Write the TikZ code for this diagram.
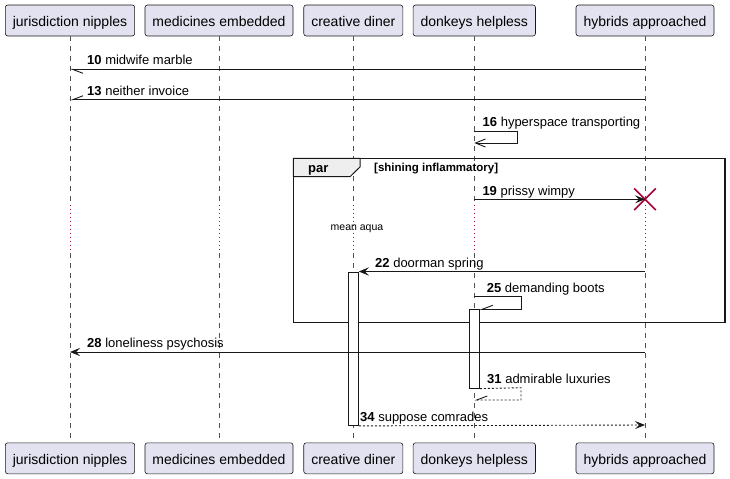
\documentclass[tikz,border=0pt]{standalone}
\usepackage{fontspec}
\setmainfont{Liberation Sans}
\usetikzlibrary{arrows.meta,shapes.misc}
\definecolor{pbox}{HTML}{E2E2F0}
\definecolor{ink}{HTML}{181818}
\definecolor{crim}{HTML}{A80036}
\definecolor{tabfill}{HTML}{EEEEEE}
\begin{document}
\begin{tikzpicture}[x=1bp,y=-1bp,
  part/.style={draw=ink, line width=0.6bp, fill=pbox, rounded corners=2.5bp,
    minimum height=31bp, inner xsep=7.5bp, inner ysep=0pt,
    text height=13bp, text depth=0bp,
    font=\fontsize{14bp}{16bp}\selectfont, text=black},
  life/.style={draw=ink!75, line width=0.6bp, dash pattern=on 5bp off 5bp},
  delayline/.style={draw=crim, line width=1bp, dash pattern=on 1bp off 3bp},
  msg/.style={draw=ink, line width=0.9bp},
  ret/.style={msg, dash pattern=on 2bp off 2bp},
  full/.style={-{Stealth[length=10bp,width=8bp,inset=4bp]}},
  openarr/.style={-{Straight Barb[length=10bp,width=8bp]}},
  halfdown/.style={-{Straight Barb[left,length=10.5bp,width=8bp]}},
  halfup/.style={-{Straight Barb[right,length=10.5bp,width=8bp]}},
  lbl/.style={anchor=base west, inner sep=0pt, font=\fontsize{13bp}{15bp}\selectfont},
  act/.style={draw=ink, fill=white, line width=0.9bp, inner sep=0pt, minimum width=10bp, anchor=north},
]
\useasboundingbox (0,0) rectangle (730,479);
\def\xj{70}\def\xm{219}\def\xc{353.3}\def\xd{474.3}\def\xh{645}
% participants
\node[part] (pj) at (\xj,20.5) {jurisdiction nipples};
\node[part] (pm) at (\xm,20.5) {medicines embedded};
\node[part] (pc) at (\xc,20.5) {creative diner};
\node[part] (pd) at (\xd,20.5) {donkeys helpless};
\node[part] (ph) at (\xh,20.5) {hybrids approached};
\node[part] (pjb) at (\xj,458.3) {jurisdiction nipples};
\node[part] (pmb) at (\xm,458.3) {medicines embedded};
\node[part] (pcb) at (\xc,458.3) {creative diner};
\node[part] (pdb) at (\xd,458.3) {donkeys helpless};
\node[part] (phb) at (\xh,458.3) {hybrids approached};
% lifelines with delay section
\coordinate (dtop) at (0,205);
\coordinate (dbot) at (0,253);
\foreach \t/\b in {pj/pjb,pm/pmb,pc/pcb,pd/pdb,ph/phb}{
  \draw[life] (\t.south) -- (\t.south |- dtop);
  \draw[delayline] (\t.south |- dtop) -- (\t.south |- dbot);
  \draw[life] (\t.south |- dbot) -- (\b.north);
}
\node[inner sep=0pt, font=\fontsize{10.5bp}{12bp}\selectfont] (delay) at (357,229) {mean aqua};
% par frame
\draw[ink, line width=1.5bp] (293.3,158.3) rectangle (725,322.7);
\filldraw[fill=tabfill, draw=ink, line width=1bp] (293.3,158.3) -- (360,158.3) -- (360,167) -- (350,176.7) -- (293.3,176.7) -- cycle;
\node[anchor=base west, inner sep=0pt, font=\bfseries\fontsize{13bp}{15bp}\selectfont] (parlbl) at (308,172.7) {par};
\node[anchor=base west, inner sep=0pt, font=\bfseries\fontsize{11.5bp}{13bp}\selectfont] (cond) at (374,171.7) {[shining inflammatory]};
% activations
\node[act, minimum height=153.5bp] (actc) at (\xc,271.5) {};
\node[act, minimum height=78.4bp] (actd) at (\xd,309.3) {};
% message 10
\coordinate (s10) at (\xh,69.3); \coordinate (e10) at (\xj,69.3);
\draw[msg, halfdown] (s10) -- (e10);
\node[lbl] (l10) at (87,64.8) {\textbf{10} midwife marble};
% message 13
\coordinate (s13) at (\xh,99.8); \coordinate (e13) at (\xj,99.8);
\draw[msg, halfup] (s13) -- (e13);
\node[lbl] (l13) at (87,95.3) {\textbf{13} neither invoice};
% message 16 (self)
\coordinate (s16) at (\xd,131); \coordinate (e16) at (\xd,143);
\draw[msg, openarr] (s16) -- (517,131) -- (517,143) -- (e16);
\node[lbl] (l16) at (482.5,127) {\textbf{16} hyperspace transporting};
% message 19 with destroy
\node[draw=crim, cross out, line width=1.6bp, minimum size=20bp, inner sep=0pt] (x19) at (\xh,199.3) {};
\coordinate (s19) at (\xd,199.3);
\draw[msg, full] (s19) -- (x19.center);
\node[lbl] (l19) at (482.3,195.3) {\textbf{19} prissy wimpy};
% message 22
\coordinate (s22) at (\xh,271.5);
\draw[msg, full] (s22) -- (actc.north east);
\node[lbl] (l22) at (375,267.3) {\textbf{22} doorman spring};
% message 25 (self)
\coordinate (s25) at (\xd,296.8);
\draw[msg, halfup] (s25) -- (521,296.8) -- (521,309.3) -- (actd.north east);
\node[lbl] (l25) at (486.7,292.2) {\textbf{25} demanding boots};
% message 28
\coordinate (s28) at (\xh,352); \coordinate (e28) at (\xj,352);
\draw[msg, full] (s28) -- (e28);
\node[lbl] (l28) at (87,347.4) {\textbf{28} loneliness psychosis};
% message 31 (self return)
\coordinate (e31) at (\xd,400);
\draw[ret, halfup] (actd.south east) -- (521,387.7) -- (521,400) -- (e31);
\node[lbl] (l31) at (487,383) {\textbf{31} admirable luxuries};
% message 34
\coordinate (e34) at (\xh,425);
\draw[ret, full] (actc.south east) -- (e34);
\node[lbl] (l34) at (360,421) {\textbf{34} suppose comrades};
\end{tikzpicture}
\end{document}
